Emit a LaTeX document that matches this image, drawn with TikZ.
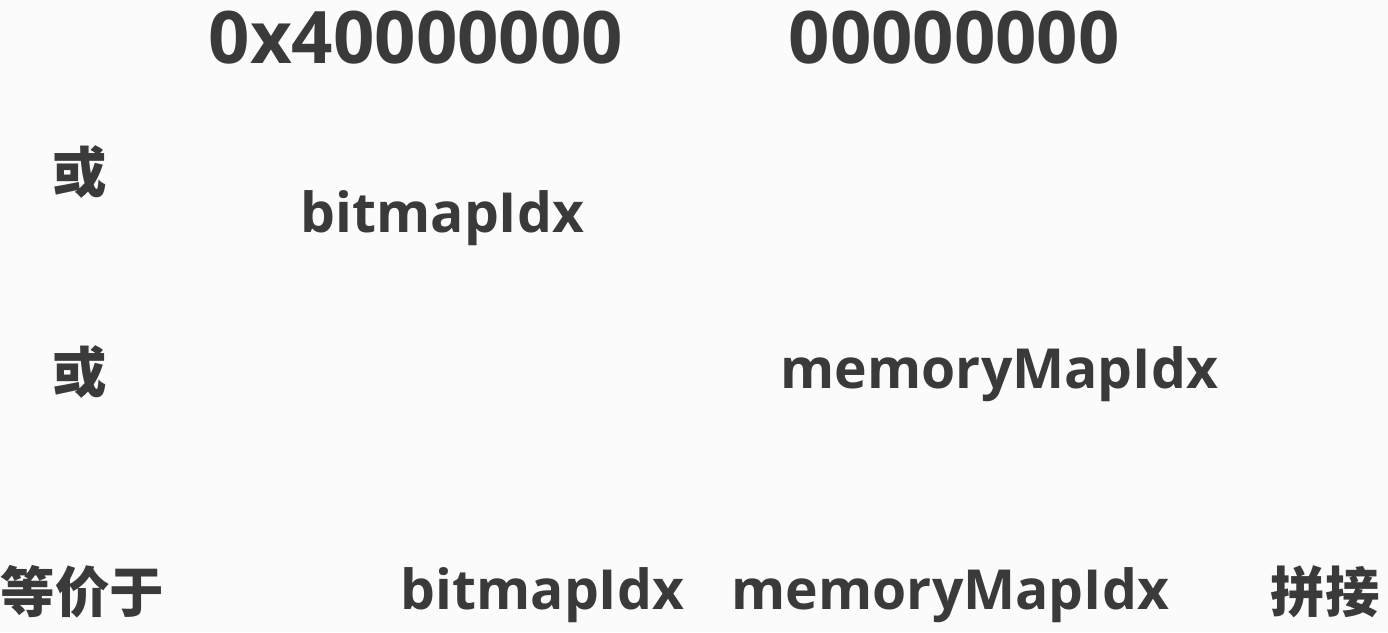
\documentclass[tikz,border=0pt]{standalone}
\usepackage{fontspec}
\setmainfont{Open Sans}
\newfontfamily\cjkfont{Noto Sans CJK SC}
\usetikzlibrary{positioning}
\definecolor{inkgray}{RGB}{58,58,58}
\definecolor{pagebg}{RGB}{251,251,251}

\begin{document}
\begin{tikzpicture}[
    x=0.01cm, y=-0.01cm,
    bignum/.style={inner sep=0pt, anchor=base west, text=inkgray,
                   font=\fontsize{20.6}{24}\selectfont\bfseries},
    field/.style={inner sep=0pt, anchor=base west, text=inkgray,
                  font=\fontsize{15.7}{19}\selectfont\bfseries},
    hanzi/.style={inner sep=0pt, anchor=center, text=inkgray,
                  font=\fontsize{15.5}{18}\selectfont\cjkfont\bfseries}
]
\fill[pagebg] (0,0) rectangle (1388,632);
\useasboundingbox (0,0) rectangle (1388,632);

% top row: the two halves
\node[bignum] (hi) at (208,63) {0x40000000};
\node[bignum] (lo) at (788,63) {00000000};

% or bitmapIdx
\node[hanzi] (or1) at (80,172) {或};
\node[field] (bitmap) at (300,232) {bitmapIdx};

% or memoryMapIdx
\node[hanzi] (or2) at (80,372) {或};
\node[field] (memmap) at (780,388) {memoryMapIdx};

% result
\node[hanzi, anchor=west] (equiv) at (0,592) {等价于};
\node[field] (bitmapB) at (400,609) {bitmapIdx};
\node[field] (memmapB) at (731,609) {memoryMapIdx};
\node[hanzi, anchor=west] (concat) at (1270,592) {拼接};
\end{tikzpicture}
\end{document}
